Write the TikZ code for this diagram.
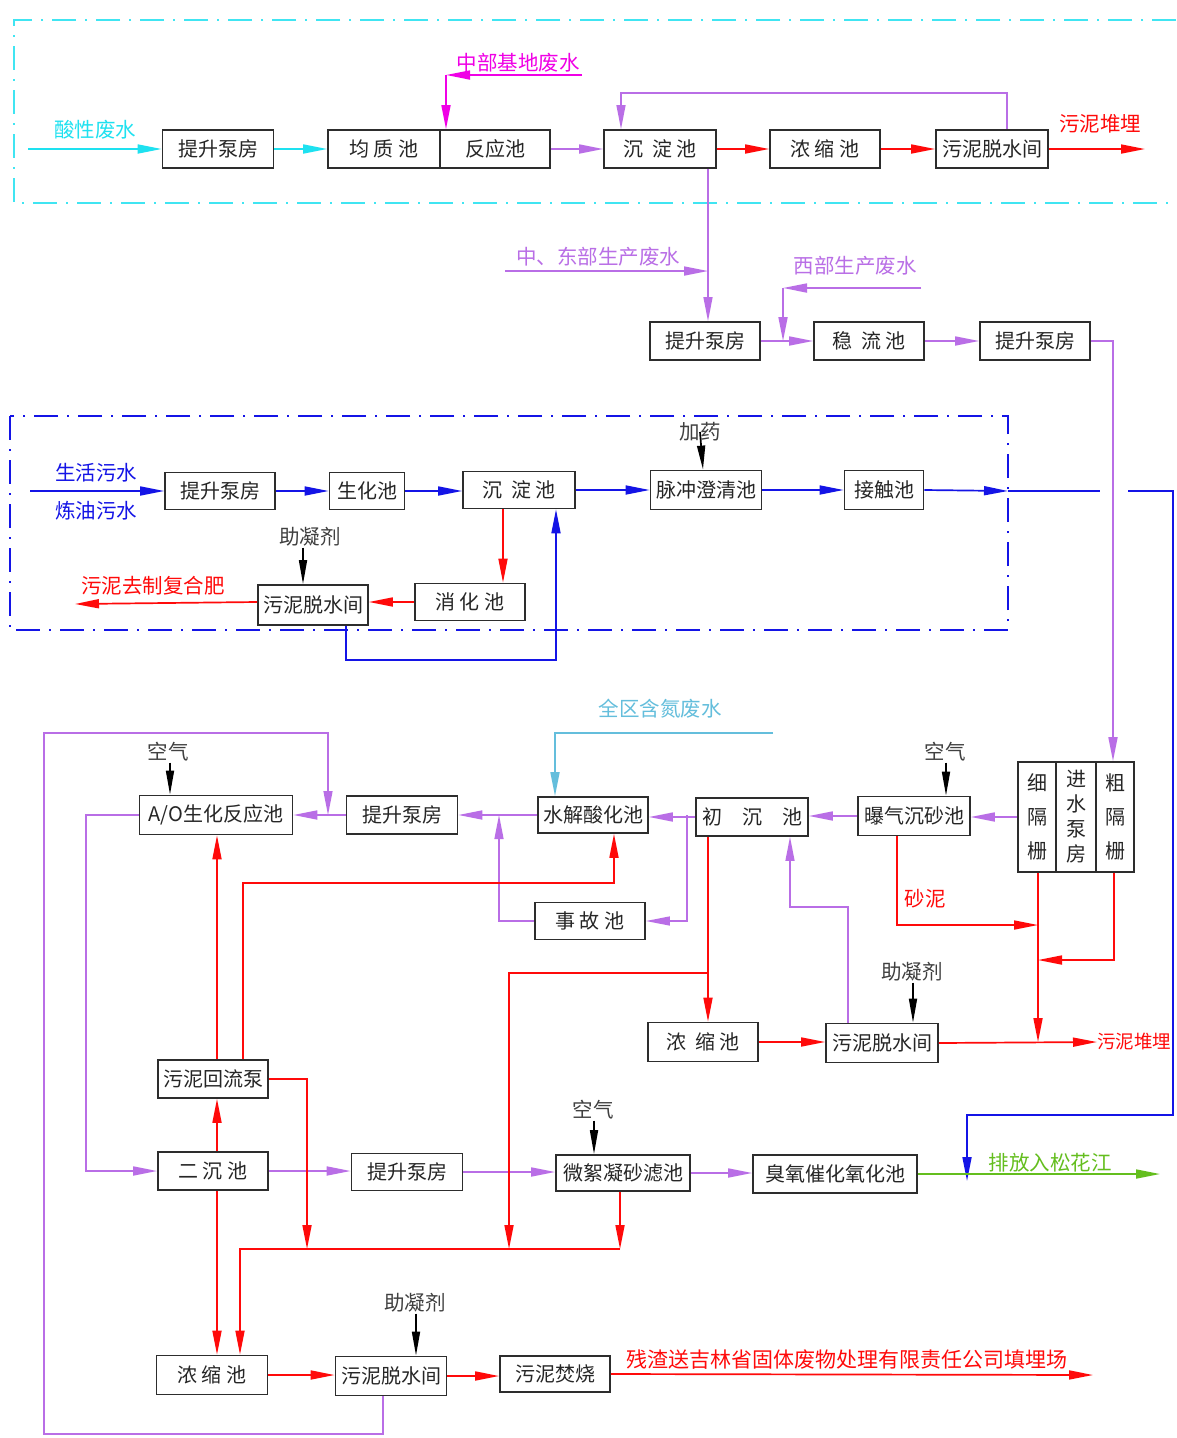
\documentclass[tikz,border=0pt]{standalone}
\usepackage{fontspec}
\setmainfont{Noto Sans CJK SC}
\usetikzlibrary{arrows.meta,calc}
\definecolor{cyanC}{RGB}{30,225,240}
\definecolor{purp}{RGB}{185,110,230}
\definecolor{magC}{RGB}{240,0,230}
\definecolor{redC}{RGB}{255,10,10}
\definecolor{blueC}{RGB}{20,20,230}
\definecolor{greenC}{RGB}{100,190,30}
\definecolor{ltblue}{RGB}{100,190,220}
\definecolor{boxC}{RGB}{45,45,45}
\begin{document}
\begin{tikzpicture}[x=1pt,y=-1pt,font=\fontsize{20}{20}\selectfont,
  box/.style={draw=boxC,line width=1.8pt,fill=white,inner sep=0pt,minimum height=38pt,text=black!85},
  lbl/.style={inner sep=1pt,font=\fontsize{20.5}{20.5}\selectfont},
  flow/.style={line width=1.7pt,-{Triangle[length=24pt,width=9pt]}},
  plain/.style={line width=1.7pt},
  feed/.style={line width=1.7pt,black,-{Triangle[length=24pt,width=8pt]}},
  frame/.style={line width=1.5pt,dash pattern=on 24pt off 9pt on 2pt off 9pt}]
\useasboundingbox (0,0) rectangle (1176,1438);
\fill[white] (0,0) rectangle (1176,1438);

% ---------- frames ----------
\draw[frame,cyanC!85!white] (1176,20) -- (14,20) -- (14,203) -- (1176,203);
\draw[frame,blueC] (10,416) rectangle (1008,630);

% ---------- top section ----------
\node[box,minimum width=111pt] (n1) at (218,149) {提升泵房};
\node[box,minimum width=112pt] (n2) at (384,149) {均 质 池};
\node[box,minimum width=110pt] (n3) at (495,149) {反应池};
\node[box,minimum width=112pt] (n4) at (660,149) {沉\ \ 淀 池};
\node[box,minimum width=110pt] (n5) at (825,149) {浓 缩 池};
\node[box,minimum width=112pt] (n6) at (992,149) {污泥脱水间};

\node[lbl,text=cyanC] (t1) at (95,130) {酸性废水};
\node[lbl,text=magC] (t2) at (518,63) {中部基地废水};
\node[lbl,text=redC] (t3) at (1100,124) {污泥堆埋};

\coordinate (acid) at (28,149);
\coordinate (mb) at (582,75);
\coordinate (mbc) at (446,75);
\coordinate (sl1) at (1145,149);

\draw[flow,cyanC] (acid) -- (n1.west);
\draw[flow,cyanC] (n1.east) -- (n2.west);
\draw[flow,magC] (mb) -- (mbc);
\draw[flow,magC] (mbc) -- (mbc |- n3.north);
\draw[flow,purp] (n3.east) -- (n4.west);
\draw[flow,redC] (n4.east) -- (n5.west);
\draw[flow,redC] (n5.east) -- (n6.west);
\draw[flow,redC] (n6.east) -- (sl1);
\draw[flow,purp,line width=1.3pt] ([xshift=15pt]n6.north) -- ++(0,-36) -| ([xshift=-39pt]n4.north);

% ---------- middle row ----------
\node[box,minimum width=110pt] (m1) at (705,341) {提升泵房};
\node[box,minimum width=110pt] (m2) at (869,341) {稳\ \ 流 池};
\node[box,minimum width=110pt] (m3) at (1035,341) {提升泵房};

\node[lbl,text=purp] (t4) at (598,257) {中、东部生产废水};
\node[lbl,text=purp] (t5) at (855,266) {西部生产废水};

\coordinate (ce) at (505,271);
\coordinate (cej) at (708,271);
\coordinate (wb) at (921,288);
\coordinate (wbc) at (783,288);

\draw[flow,purp,line width=1.3pt] ([xshift=3pt]m1.north |- n4.south) -- ([xshift=3pt]m1.north);
\draw[flow,purp] (ce) -- (cej);
\draw[flow,purp] (wb) -- (wbc);
\draw[flow,purp] (wbc) -- (wbc |- m1.east);
\draw[flow,purp] (m1.east) -- (m2.west);
\draw[flow,purp] (m2.east) -- (m3.west);

% ---------- blue section ----------
\node[box,minimum width=110pt,minimum height=37pt] (b1) at (220,491) {提升泵房};
\node[box,minimum width=75pt,minimum height=37pt] (b2) at (367,491) {生化池};
\node[box,minimum width=112pt,minimum height=37pt] (b3) at (519,490) {沉\ \ 淀 池};
\node[box,minimum width=111pt,minimum height=39pt] (b4) at (706,490) {脉冲澄清池};
\node[box,minimum width=79pt,minimum height=39pt] (b5) at (884,490) {接触池};
\node[box,minimum width=110pt,minimum height=37pt] (b6) at (470,602) {消 化 池};
\node[box,minimum width=110pt,minimum height=40pt] (b7) at (313,605) {污泥脱水间};

\node[lbl,text=blueC] (t6) at (96,473) {生活污水};
\node[lbl,text=blueC] (t7) at (96,511) {炼油污水};
\node[lbl,text=black!75] (t8) at (700,432) {加药};
\node[lbl,text=black!75] (t9) at (310,537) {助凝剂};
\node[lbl,text=redC] (t10) at (153,586) {污泥去制复合肥};

\coordinate (dom) at (30,491);
\coordinate (bx) at (1008,491);
\coordinate (gap1) at (1100,491);
\coordinate (gap2) at (1128,491);
\coordinate (bc1) at (1173,491);
\coordinate (bc2) at (1173,1115);
\coordinate (bc3) at (967,1115);
\coordinate (bc4) at (967,1181);
\coordinate (fert) at (75,604);

\draw[flow,blueC] (dom) -- (b1.west);
\draw[flow,blueC] (b1.east) -- (b1.east -| b2.west);
\draw[flow,blueC] (b2.east) -- (b2.east -| b3.west);
\draw[flow,blueC] (b3.east) -- (b3.east -| b4.west);
\draw[flow,blueC] (b4.east) -- (b4.east -| b5.west);
\draw[flow,blueC] (b5.east) -- (bx);
\draw[plain,blueC] (bx) -- (gap1);
\draw[flow,blueC] (gap2) -- (bc1) -- (bc2) -- (bc3) -- (bc4);
\draw[feed] (t8.center) -- ([xshift=-3pt]b4.north);
\draw[flow,redC] ([xshift=-16pt]b3.south) -- ([xshift=33pt]b6.north);
\draw[flow,redC] (b6.west) -- (b6.west -| b7.east);
\draw[flow,redC] (b6.west -| b7.west) -- (fert);
\draw[feed] ([xshift=-7pt]t9.south) -- ([xshift=-10pt]b7.north);
\draw[flow,blueC] ([xshift=33pt]b7.south) -- ++(0,34) -| ([xshift=37pt]b3.south);

% ---------- bottom section: upper row ----------
\node[box,minimum width=153pt,minimum height=39pt] (c1) at (216,815) {A/O生化反应池};
\node[box,minimum width=111pt] (c2) at (402,815) {提升泵房};
\node[box,minimum width=110pt,minimum height=36pt] (c3) at (593,815) {水解酸化池};
\node[box,minimum width=112pt] (c4) at (752,817) {初\quad 沉\quad 池};
\node[box,minimum width=112pt,minimum height=39pt] (c5) at (914,816) {曝气沉砂池};
\node[box,minimum width=38pt,minimum height=110pt,align=center,font=\fontsize{20}{34}\selectfont] (xg) at (1037,817) {细\\隔\\栅};
\node[box,minimum width=40pt,minimum height=110pt,align=center,font=\fontsize{20}{25}\selectfont] (jb) at (1076,817) {进\\水\\泵\\房};
\node[box,minimum width=38pt,minimum height=110pt,align=center,font=\fontsize{20}{34}\selectfont] (cg) at (1115,817) {粗\\隔\\栅};
\node[box,minimum width=110pt,minimum height=37pt] (c7) at (590,921) {事 故 池};

\node[lbl,text=ltblue] (t11) at (660,709) {全区含氮废水};
\node[lbl,text=black!75] (t12) at (168,752) {空气};
\node[lbl,text=black!75] (t13) at (945,752) {空气};
\node[lbl,text=redC] (t14) at (925,899) {砂泥};

\draw[flow,purp] (m3.east) -| ([xshift=-2pt]cg.north);
\coordinate (qd) at (773,733);
\draw[flow,ltblue] (qd) -| ([xshift=-38pt]c3.north);
\draw[feed] ([xshift=2pt]t12.south) -- ([xshift=-46pt]c1.north);
\draw[feed] ([xshift=1pt]t13.south) -- ([xshift=32pt]c5.north);
\draw[flow,purp] (xg.west) -- (xg.west -| c5.east);
\draw[flow,purp] (c5.west) -- (c5.west -| c4.east);
\coordinate (acc) at ([xshift=38pt]c3.east);
\draw[flow,purp] (c4.west) -- (c4.west -| c3.east);
\draw[flow,purp] (c3.west) -- (c3.west -| c2.east);
\draw[flow,purp] (c2.west) -- (c2.west -| c1.east);
\draw[flow,purp,line width=1.3pt] (acc) |- (c7.east);
\coordinate (acu) at (499,815);
\draw[flow,purp,line width=1.3pt] (c7.west) -| (acu);

% ---------- bottom section: middle ----------
\node[box,minimum width=110pt,minimum height=39pt] (c8) at (703,1042) {浓\ \ 缩 池};
\node[box,minimum width=112pt,minimum height=39pt] (c9) at (882,1043) {污泥脱水间};
\node[box,minimum width=110pt] (c10) at (213,1079) {污泥回流泵};
\node[lbl,text=black!75] (t15) at (912,972) {助凝剂};
\node[lbl,text=redC,anchor=west,font=\fontsize{18.5}{18.5}\selectfont] (t16) at (1096,1042) {污泥堆埋};

\coordinate (sl2) at (1097,1042);
\coordinate (rj1) at (1038,925);
\coordinate (rj2) at (1038,960);
\coordinate (rj3) at (1038,1042);
\coordinate (ip) at (790,907);
\draw[flow,redC] ([xshift=-44pt]c4.south) -- ([xshift=5pt]c8.north);
\draw[flow,redC] (c8.east) -- (c8.east -| c9.west);
\draw[flow,redC] (c9.east) -- (sl2);
\draw[feed] ([xshift=1pt]t15.south) -- ([xshift=31pt]c9.north);
\draw[flow,purp,line width=1.3pt] ([xshift=-34pt]c9.north) |- (ip) -- ([xshift=38pt]c4.south);
\draw[flow,redC] ([xshift=1pt]xg.south) -- (rj3);
\draw[flow,redC] ([xshift=-17pt]c5.south) |- (rj1);
\draw[flow,redC] ([xshift=-1pt]cg.south) |- (rj2);

% ---------- bottom section: lower rows ----------
\node[box,minimum width=110pt] (c11) at (213,1171) {二 沉 池};
\node[box,minimum width=111pt,minimum height=37pt] (c12) at (407,1172) {提升泵房};
\node[box,minimum width=134pt,minimum height=36pt] (c13) at (623,1173) {微絮凝砂滤池};
\node[box,minimum width=164pt,minimum height=38pt] (c14) at (835,1174) {臭氧催化氧化池};
\node[box,minimum width=111pt,minimum height=39pt] (c15) at (212,1375) {浓 缩 池};
\node[box,minimum width=111pt,minimum height=39pt] (c16) at (391,1376) {污泥脱水间};
\node[box,minimum width=110pt,minimum height=36pt] (c17) at (555,1374) {污泥焚烧};

\node[lbl,text=black!75] (t17) at (593,1110) {空气};
\node[lbl,text=greenC] (t18) at (1050,1163) {排放入松花江};
\node[lbl,text=black!75] (t19) at (415,1303) {助凝剂};
\node[lbl,text=redC,font=\fontsize{21}{21}\selectfont] (t20) at (847,1360) {残渣送吉林省固体废物处理有限责任公司填埋场};

\coordinate (riv) at (1160,1174);
\coordinate (ash) at (1093,1375);
\coordinate (j1) at (307,1249);
\coordinate (j2) at (509,1249);
\coordinate (j3) at (620,1249);
\coordinate (rb) at (708,973);
\coordinate (lp1) at (44,1434);
\coordinate (lp2) at (44,733);
\coordinate (lp3) at (328,815);
\coordinate (ao) at (86,815);
\coordinate (rt) at (614,883);

% A/O -> secondary clarifier
\draw[flow,purp] (c1.west) -- (ao) |- (c11.west);
\draw[flow,purp] (c11.east) -- (c11.east -| c12.west);
\draw[flow,purp] (c12.east) -- (c12.east -| c13.west);
\draw[flow,purp] (c13.east) -- (c13.east -| c14.west);
\draw[flow,greenC] (c14.east) -- (riv);
\draw[feed] ([xshift=1pt]t17.south) -- ([xshift=-29pt]c13.north);
% filtrate return loop
\draw[flow,purp,line width=1.3pt] ([xshift=-8pt]c16.south) |- (lp1) -- (lp2) -| (lp3);
% sludge return
\draw[flow,redC] ([xshift=4pt]c11.north) -- ([xshift=4pt]c10.south);
\draw[flow,redC] ([xshift=4pt]c10.north) -- ([xshift=1pt]c1.south);
\draw[flow,redC] ([xshift=30pt]c10.north) |- (rt) -- ([xshift=21pt]c3.south);
\draw[flow,redC] (c10.east) -| (j1);
\draw[flow,redC] (rb) -| (j2);
\draw[flow,redC] ([xshift=-3pt]c13.south) -- (j3);
\draw[flow,redC] (j3) -| ([xshift=28pt]c15.north);
\draw[flow,redC] ([xshift=4pt]c11.south) -- ([xshift=5pt]c15.north);
% sludge line
\draw[flow,redC] (c15.east) -- (c15.east -| c16.west);
\draw[flow,redC] (c16.east) -- (c16.east -| c17.west);
\draw[flow,redC] (c17.east) -- (ash);
\draw[feed] ([xshift=1pt]t19.south) -- ([xshift=25pt]c16.north);
\end{tikzpicture}
\end{document}
